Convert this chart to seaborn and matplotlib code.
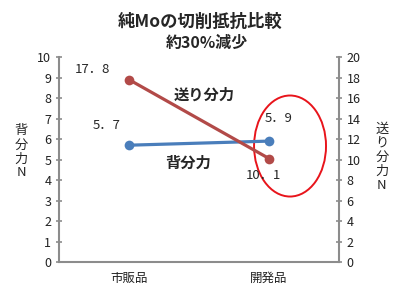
# 純Moの切削抵抗比較（背分力・送り分力）

import matplotlib.pyplot as plt
from matplotlib.patches import Ellipse
import pandas as pd
import seaborn as sns

# ======================== データ ========================
categories = ["市販品", "開発品"]
back_force = [5.7, 5.9]      # 背分力（左軸）
feed_force = [17.8, 10.1]    # 送り分力（右軸）
back_labels = ["5．7", "5．9"]
feed_labels = ["17．8", "10．1"]

BLUE = "#4a7ebb"
RED = "#b24a48"
GRAY = "#8c8c8c"

sns.set_theme(style="white")
plt.rcParams["font.family"] = ["Noto Sans CJK JP", "DejaVu Sans"]
plt.rcParams["axes.unicode_minus"] = False

df = pd.DataFrame({"製品": categories, "背分力": back_force, "送り分力": feed_force})
df["x"] = range(len(df))

fig = plt.figure(figsize=(3.97, 2.85), dpi=100)
ax = fig.add_axes([0.1486, 0.0807, 0.7054, 0.719])
ax2 = ax.twinx()

sns.lineplot(data=df, x="x", y="背分力", color=BLUE, marker="o", markersize=7,
             markeredgewidth=0, linewidth=2.3, ax=ax)
sns.lineplot(data=df, x="x", y="送り分力", color=RED, marker="o", markersize=7,
             markeredgewidth=0, linewidth=2.3, ax=ax2)

ax.set_xlim(-0.5, 1.5)
ax.set_ylim(0, 10)
ax2.set_ylim(0, 20)
ax.set_yticks(range(0, 11))
ax2.set_yticks(range(0, 21, 2))
ax.set_xticks(df["x"])
ax.set_xticklabels(categories, fontsize=9)
ax.set_xlabel("")
ax.set_ylabel("")
ax2.set_ylabel("")

for a in (ax, ax2):
    a.spines["top"].set_visible(False)
    for side in ("left", "right", "bottom"):
        a.spines[side].set_color(GRAY)
        a.spines[side].set_linewidth(1.5)
    a.tick_params(axis="y", direction="inout", length=5, width=1.2, color=GRAY,
                  labelsize=9, pad=3, labelcolor="#222222")
ax.tick_params(axis="x", length=0, pad=7, labelcolor="#222222")
ax.spines["right"].set_visible(False)
ax2.spines["left"].set_visible(False)
ax2.spines["bottom"].set_visible(False)

# 値ラベル（左軸のデータ座標で配置）
ax.text(-0.26, 9.37, feed_labels[0], fontsize=9.5, ha="center", va="center")
ax.text(-0.16, 6.68, back_labels[0], fontsize=9.5, ha="center", va="center")
ax.text(1.07, 7.02, back_labels[1], fontsize=9.5, ha="center", va="center")
ax.text(0.96, 4.24, feed_labels[1], fontsize=9.5, ha="center", va="center")

# 系列名
ax.text(0.54, 8.15, "送り分力", fontsize=11, fontweight="bold", ha="center", va="center")
ax.text(0.42, 4.83, "背分力", fontsize=11, fontweight="bold", ha="center", va="center")

# 強調の楕円
ax.add_patch(Ellipse((1.15, 5.66), 0.514, 4.93, fill=False, edgecolor="#e8141b",
                     linewidth=1.4, clip_on=False))

# 軸タイトル（縦書き）
fig.text(0.053, 0.467, "背\n分\n力\nN", fontsize=9.5, ha="center", va="center",
         linespacing=1.1)
fig.text(0.962, 0.449, "送\nり\n分\n力\nN", fontsize=9.5, ha="center", va="center",
         linespacing=1.1)

# タイトル
fig.text(0.505, 0.923, "純Moの切削抵抗比較", fontsize=12.5, fontweight="bold",
         ha="center", va="center")
fig.text(0.52, 0.849, "約30%減少", fontsize=11.5, fontweight="bold", ha="center",
         va="center")

fig.savefig("out.png", dpi=100)
